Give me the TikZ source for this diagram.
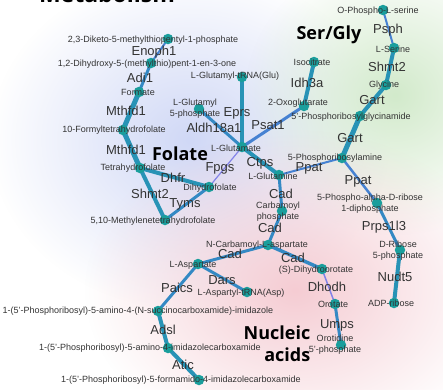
\documentclass[tikz,border=0pt]{standalone}
\usepackage{fontspec}
\setmainfont{Liberation Sans}
\newfontfamily\boldfam{Open Sans}[UprightFont=* Bold]
\usetikzlibrary{fadings}
\tikzfading[name=myfade, inner color=transparent!0, outer color=transparent!100]
\definecolor{bgblue}{HTML}{D0D8F6}
\definecolor{bggreen}{HTML}{D2EACB}
\definecolor{bgpink}{HTML}{F5CCD3}
\definecolor{dotc}{HTML}{1A9E9C}
\definecolor{txt}{HTML}{333333}
\definecolor{ecA}{HTML}{2893B6}
\definecolor{ecB}{HTML}{3489C4}
\definecolor{ecC}{HTML}{4682D2}
\definecolor{ecD}{HTML}{8383E8}
\pgfdeclarelayer{bg}
\pgfdeclarelayer{edges}
\pgfsetlayers{bg,edges,main}
\tikzset{
  dot/.style={circle,fill=dotc,minimum size=10.5pt,inner sep=0pt},
  cpd/.style={inner sep=0pt,text=txt,font=\fontsize{9}{11}\selectfont,align=center},
  gene/.style={inner sep=0pt,text=txt,font=\fontsize{13}{15}\selectfont},
  grp/.style={inner sep=0pt,text=black,font=\boldfam\fontsize{18}{21}\selectfont},
  eA/.style={draw=ecA,line width=5pt},
  eB/.style={draw=ecA,line width=4pt},
  eC/.style={draw=ecB,line width=3pt},
  eD/.style={draw=ecC,line width=2pt},
  eE/.style={draw=ecD,line width=1.2pt},
}
\begin{document}
\begin{tikzpicture}[x=1pt,y=-1pt]
\useasboundingbox (0,0) rectangle (443,389);
\clip (0,0) rectangle (443,389);
\begin{pgfonlayer}{bg}
\fill[white] (0,0) rectangle (443,389);
\fill[bgblue,path fading=myfade] (190,140) ellipse (200 and 170);
\fill[bggreen,path fading=myfade] (395,95) ellipse (150 and 140);
\fill[bgpink,path fading=myfade] (295,290) ellipse (210 and 160);
\end{pgfonlayer}
% title (cut off at the top edge, as in the reference)
\node[anchor=base,inner sep=0pt,font=\boldfam\fontsize{23}{26}\selectfont] (title) at (107,2) {Metabolism};
% dots
\node[dot] (dk) at (168,39) {};
\node[dot] (dhm) at (151,63) {};
\node[dot] (for) at (139,92) {};
\node[dot] (tenf) at (123,130) {};
\node[dot] (thf) at (140,168) {};
\node[dot] (dhf) at (209,187) {};
\node[dot] (mthf) at (165,220) {};
\node[dot] (glu5p) at (199,109) {};
\node[dot] (glutrna) at (242,77) {};
\node[dot] (glu) at (242,147) {};
\node[dot] (gln) at (279,175) {};
\node[dot] (ops) at (383,10) {};
\node[dot] (ser) at (394,48) {};
\node[dot] (gly) at (386,85) {};
\node[dot] (prg) at (360,116) {};
\node[dot] (iso) at (314,62) {};
\node[dot] (akg) at (304,106) {};
\node[dot] (pra) at (342,158) {};
\node[dot] (prpp) at (377,203) {};
\node[dot] (r5p) at (400,250) {};
\node[dot] (adpr) at (394,303) {};
\node[dot] (cp) at (282,211) {};
\node[dot] (nca) at (268,245) {};
\node[dot] (dho) at (322,269) {};
\node[dot] (oro) at (335,304) {};
\node[dot] (omp) at (341,345) {};
\node[dot] (asp) at (198,264) {};
\node[dot] (asptrna) at (247,292) {};
\node[dot] (saicar) at (158,311) {};
\node[dot] (aicar) at (168,348) {};
\node[dot] (faicar) at (199,380) {};
% edges
\begin{pgfonlayer}{edges}
\draw[eD] (dk.center) -- (dhm.center);
\draw[eC] (dhm.center) -- (for.center);
\draw[eA] (for.center) -- (tenf.center);
\draw[eA] (tenf.center) -- (thf.center);
\draw[eB] (thf.center) -- (dhf.center);
\draw[eB] (thf.center) -- (mthf.center);
\draw[eC] (dhf.center) -- (mthf.center);
\draw[eE] (dhf.center) -- (glu.center);
\draw[eC] (glu5p.center) -- (glu.center);
\draw[eB] (glutrna.center) -- (glu.center);
\draw[draw=ecC,line width=3pt] (akg.center) -- (glu.center);
\draw[eB] (glu.center) -- (gln.center);
\draw[eB] (iso.center) -- (akg.center);
\draw[eD] (ops.center) -- (ser.center);
\draw[eB] (ser.center) -- (gly.center);
\draw[eB] (gly.center) -- (prg.center);
\draw[eA] (prg.center) -- (pra.center);
\draw[eD] (gln.center) -- (pra.center);
\draw[draw=ecC,line width=2.5pt] (pra.center) -- (prpp.center);
\draw[eC] (prpp.center) -- (r5p.center);
\draw[eB] (r5p.center) -- (adpr.center);
\draw[eC] (gln.center) -- (cp.center);
\draw[eC] (cp.center) -- (nca.center);
\draw[eC] (asp.center) -- (nca.center);
\draw[draw=ecB,line width=3.5pt] (nca.center) -- (dho.center);
\draw[draw=ecD,line width=1.5pt] (dho.center) -- (oro.center);
\draw[eC] (oro.center) -- (omp.center);
\draw[eC] (asp.center) -- (asptrna.center);
\draw[eC] (asp.center) -- (saicar.center);
\draw[eB] (saicar.center) -- (aicar.center);
\draw[eB] (aicar.center) -- (faicar.center);
\end{pgfonlayer}
% compound labels
\node[cpd] (ldk) at (153,40) {2,3-Diketo-5-methylthiopentyl-1-phosphate};
\node[cpd] (ldhm) at (147,64) {1,2-Dihydroxy-5-(methylthio)pent-1-en-3-one};
\node[cpd] (lfor) at (138,92) {Formate};
\node[cpd] (ltenf) at (114,130) {10-Formyltetrahydrofolate};
\node[cpd] (lthf) at (133,168) {Tetrahydrofolate};
\node[cpd] (ldhf) at (210,188) {Dihydrofolate};
\node[cpd] (lmthf) at (153,221) {5,10-Methylenetetrahydrofolate};
\node[cpd] (lglu5p) at (195,109) {L-Glutamyl\\5-phosphate};
\node[cpd] (lglutrna) at (235,76) {L-Glutamyl-tRNA(Glu)};
\node[cpd] (lglu) at (236,148) {L-Glutamate};
\node[cpd] (lgln) at (273,176) {L-Glutamine};
\node[cpd] (lops) at (378,11) {O-Phospho-L-serine};
\node[cpd] (lser) at (393,49) {L-Serine};
\node[cpd] (lgly) at (384,85) {Glycine};
\node[cpd] (lprg) at (351,117) {5'-Phosphoribosylglycinamide};
\node[cpd] (liso) at (312,62) {Isocitrate};
\node[cpd] (lakg) at (298,103) {2-Oxoglutarate};
\node[cpd] (lpra) at (335,158) {5-Phosphoribosylamine};
\node[cpd] (lprpp) at (370,204) {5-Phospho-alpha-D-ribose\\1-diphosphate};
\node[cpd] (lr5p) at (398,251) {D-Ribose\\5-phosphate};
\node[cpd] (ladpr) at (391,303) {ADP-ribose};
\node[cpd] (lcp) at (278,212) {Carbamoyl\\phosphate};
\node[cpd] (lnca) at (257,245) {N-Carbamoyl-L-aspartate};
\node[cpd] (ldho) at (316,270) {(S)-Dihydroorotate};
\node[cpd] (loro) at (333,304) {Orotate};
\node[cpd] (lomp) at (335,345) {Orotidine\\5'-phosphate};
\node[cpd] (lasp) at (193,265) {L-Aspartate};
\node[cpd] (lasptrna) at (241,293) {L-Aspartyl-tRNA(Asp)};
\node[cpd] (lsaicar) at (138,311) {1-(5'-Phosphoribosyl)-5-amino-4-(N-succinocarboxamide)-imidazole};
\node[cpd] (laicar) at (150,348) {1-(5'-Phosphoribosyl)-5-amino-4-imidazolecarboxamide};
\node[cpd] (lfaicar) at (181,380) {1-(5'-Phosphoribosyl)-5-formamido-4-imidazolecarboxamide};
% gene labels
\node[gene] (g1) at (154,52) {Enoph1};
\node[gene] (g2) at (140,78) {Adi1};
\node[gene] (g3) at (126,111) {Mthfd1};
\node[gene] (g4) at (126,150) {Mthfd1};
\node[gene] (g5) at (173,178) {Dhfr};
\node[gene] (g6) at (150,194) {Shmt2};
\node[gene] (g7) at (185,204) {Tyms};
\node[gene] (g8) at (237,113) {Eprs};
\node[gene] (g9) at (214,128) {Aldh18a1};
\node[gene] (g10) at (268,125) {Psat1};
\node[gene] (g11) at (220,168) {Fpgs};
\node[gene] (g12) at (260,163) {Ctps};
\node[gene] (g13) at (388,30) {Psph};
\node[gene] (g14) at (387,67) {Shmt2};
\node[gene] (g15) at (372,100) {Gart};
\node[gene] (g16) at (307,83) {Idh3a};
\node[gene] (g17) at (350,138) {Gart};
\node[gene] (g18) at (309,168) {Ppat};
\node[gene] (g19) at (358,181) {Ppat};
\node[gene] (g20) at (384,227) {Prps1l3};
\node[gene] (g21) at (395,277) {Nudt5};
\node[gene] (g22) at (281,194) {Cad};
\node[gene] (g23) at (270,228) {Cad};
\node[gene] (g24) at (230,254) {Cad};
\node[gene] (g25) at (293,258) {Cad};
\node[gene] (g26) at (327,287) {Dhodh};
\node[gene] (g27) at (337,325) {Umps};
\node[gene] (g28) at (222,280) {Dars};
\node[gene] (g29) at (177,288) {Paics};
\node[gene] (g30) at (163,330) {Adsl};
\node[gene] (g31) at (183,365) {Atic};
% group labels
\node[grp] (folate) at (180,154) {Folate};
\node[grp] (sergly) at (329,35) {Ser/Gly};
\node[grp,align=right,font=\boldfam\fontsize{18}{22}\selectfont] (nuc) at (277,344) {Nucleic\\acids};
\end{tikzpicture}
\end{document}
